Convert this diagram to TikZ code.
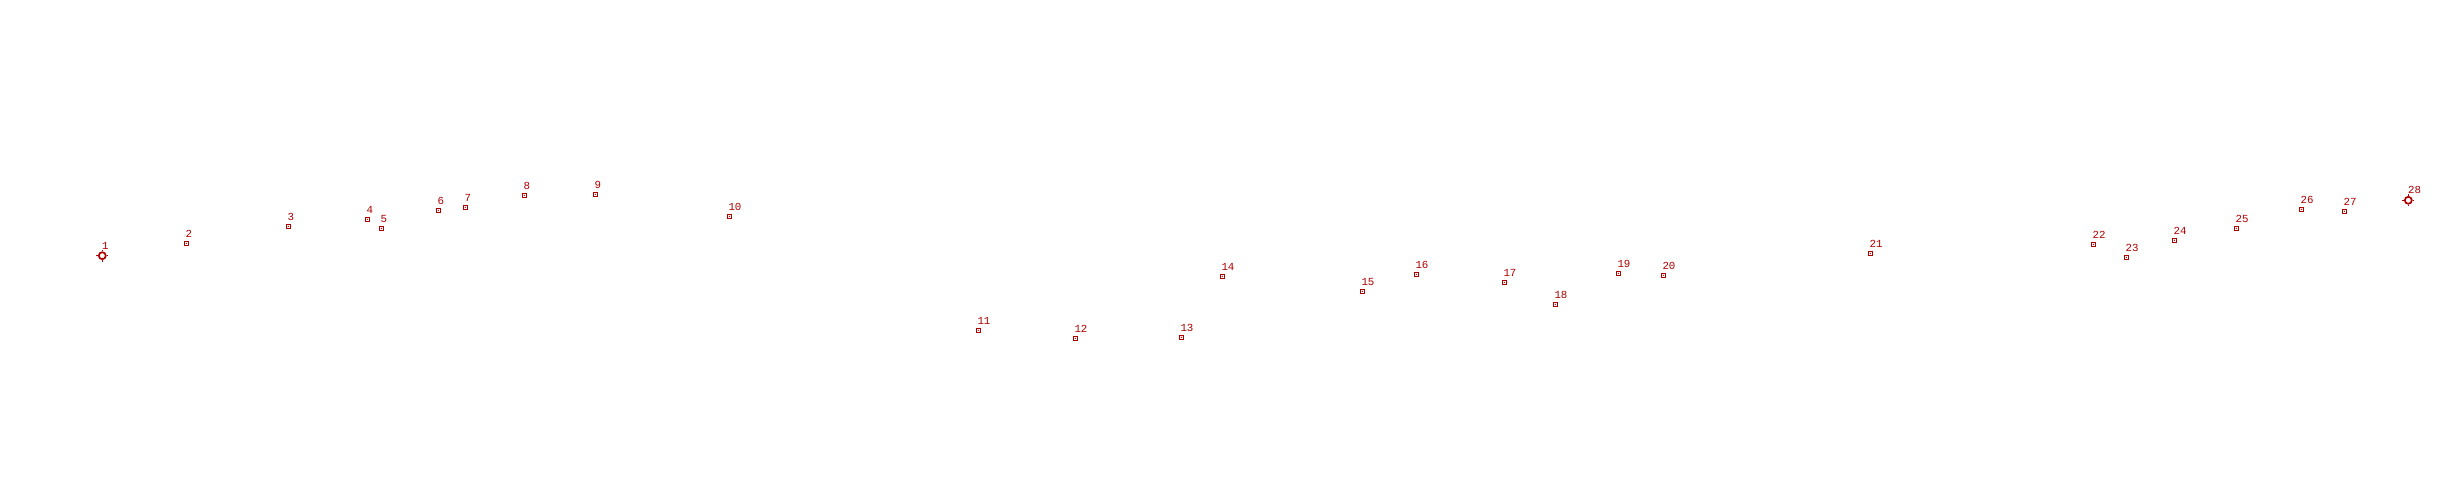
\documentclass[tikz,border=0pt]{standalone}
\usepackage{fontspec}
\setmonofont{Liberation Mono}
\definecolor{mred}{HTML}{B00000}
\tikzset{
  sq/.style={draw=mred, line width=0.9pt, minimum size=4.6pt, inner sep=0pt, rectangle},
  endmk/.style={draw=mred, line width=1.7pt, circle, minimum size=7pt, inner sep=0pt},
  lbl/.style={text=mred, font=\ttfamily\fontsize{10.8}{11}\selectfont, inner sep=0pt, anchor=base west},
}
\newcommand{\wpt}[4]{%
  \node[sq] (#1) at (#2,#3) {};
  \fill[mred] (#1.center) circle (0.7);
  \node[lbl] (#1l) at ([shift={(-1,-6)}]#1.center) {#4};
}
\newcommand{\wend}[4]{%
  \node[endmk] (#1) at (#2,#3) {};
  \draw[mred, line width=1pt] (#1.north) -- ++(0,-1.8) (#1.south) -- ++(0,1.8)
        (#1.east) -- ++(1.8,0) (#1.west) -- ++(-1.8,0);
  \node[lbl] (#1l) at ([shift={(-0.5,-6.5)}]#1.center) {#4};
}
\begin{document}
\begin{tikzpicture}[x=1pt,y=-1pt]
\useasboundingbox[fill=white] (0,0) rectangle (2442,500);
\wend{p1}{102.3}{255.7}{1}
\wpt{p2}{186.3}{243.3}{2}
\wpt{p3}{288.3}{226.3}{3}
\wpt{p4}{367.3}{219.3}{4}
\wpt{p5}{381.3}{228.3}{5}
\wpt{p6}{438.3}{210.3}{6}
\wpt{p7}{465.3}{207.3}{7}
\wpt{p8}{524.3}{195.3}{8}
\wpt{p9}{595.3}{194.3}{9}
\wpt{p10}{729.3}{216.3}{10}
\wpt{p11}{978.3}{330.3}{11}
\wpt{p12}{1075.3}{338.3}{12}
\wpt{p13}{1181.3}{337.3}{13}
\wpt{p14}{1222.3}{276.3}{14}
\wpt{p15}{1362.3}{291.3}{15}
\wpt{p16}{1416.3}{274.3}{16}
\wpt{p17}{1504.3}{282.3}{17}
\wpt{p18}{1555.3}{304.3}{18}
\wpt{p19}{1618.3}{273.3}{19}
\wpt{p20}{1663.3}{275.3}{20}
\wpt{p21}{1870.3}{253.3}{21}
\wpt{p22}{2093.3}{244.3}{22}
\wpt{p23}{2126.3}{257.3}{23}
\wpt{p24}{2174.3}{240.3}{24}
\wpt{p25}{2236.3}{228.3}{25}
\wpt{p26}{2301.3}{209.3}{26}
\wpt{p27}{2344.3}{211.3}{27}
\wend{p28}{2408.3}{200.3}{28}
\end{tikzpicture}
\end{document}
